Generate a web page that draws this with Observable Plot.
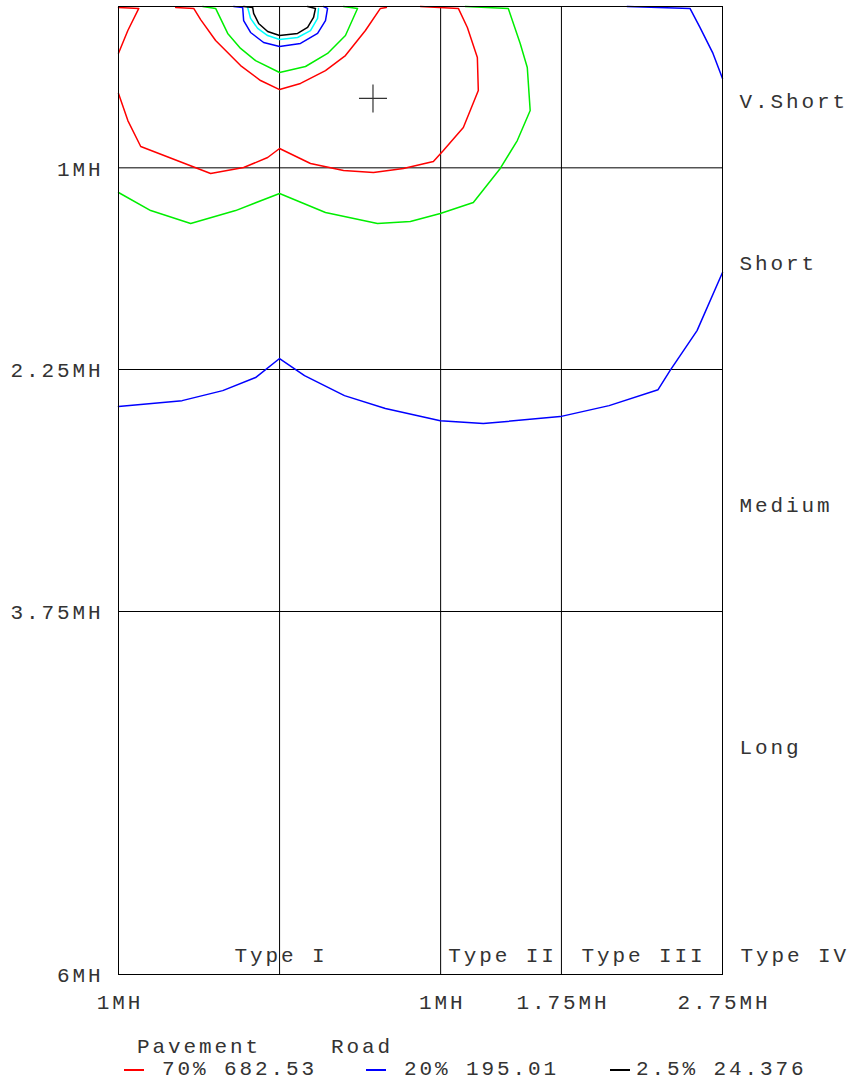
<!DOCTYPE html>
<html><head><meta charset="utf-8">
<script src="https://cdn.jsdelivr.net/npm/d3@7"></script>
<script src="https://cdn.jsdelivr.net/npm/@observablehq/plot@0.6"></script>
<style>
body{margin:0;background:#fff;}
#wrap{position:relative;width:851px;height:1082px;font-family:"Liberation Mono","Courier New",monospace;color:#333;overflow:hidden;}
#wrap svg{position:absolute;left:0;top:0;}
#wrap svg text{letter-spacing:2.9px;}
.leg{position:absolute;font-size:21px;letter-spacing:2.9px;line-height:20px;height:20px;white-space:pre;}
.dash{position:absolute;height:2px;}
</style></head><body><div id="wrap"></div>
<script>
// Contour polylines, in mounting heights (MH): [transverse x, longitudinal y]
const redOuterLeft = [[-1.0,0.006],[-0.874,0.012],[-0.942,0.149],[-1.0,0.29]];
const redInner = [[-0.645,0.006],[-0.533,0.012],[-0.49,0.081],[-0.397,0.211],[-0.242,0.366],[-0.118,0.459],[0.0,0.515],[0.13,0.477],[0.285,0.397],[0.409,0.304],[0.533,0.149],[0.626,0.012],[0.663,0.006]];
const redOuter = [[0.874,0.0],[1.11,0.012],[1.166,0.13],[1.228,0.316],[1.234,0.521],[1.141,0.75],[1.017,0.893],[0.955,0.961],[0.769,1.004],[0.583,1.029],[0.397,1.017],[0.192,0.973],[0.0,0.88],[-0.074,0.936],[-0.223,0.998],[-0.428,1.035],[-0.862,0.868],[-0.942,0.707],[-1.0,0.539]];
const greenInner = [[-0.477,0.0],[-0.397,0.012],[-0.322,0.167],[-0.242,0.26],[-0.149,0.335],[0.0,0.409],[0.161,0.372],[0.298,0.291],[0.409,0.18],[0.484,0.012],[0.397,0.0]];
const greenOuter = [[-1.0,1.153],[-0.8,1.265],[-0.552,1.345],[-0.273,1.265],[0.0,1.159],[0.285,1.277],[0.608,1.345],[0.812,1.333],[0.998,1.283],[1.203,1.215],[1.37,1.004],[1.476,0.831],[1.556,0.645],[1.538,0.378],[1.494,0.229],[1.42,0.012],[1.153,0.0]];
const blueTop = [[2.158,0.0],[2.548,0.012],[2.61,0.13],[2.691,0.291],[2.75,0.446]];
const blueOuter = [[2.75,1.649],[2.592,2.009],[2.424,2.257],[2.35,2.375],[2.046,2.474],[1.742,2.542],[1.265,2.585],[0.998,2.567],[0.657,2.492],[0.403,2.412],[0.155,2.288],[0.0,2.182],[-0.149,2.3],[-0.353,2.381],[-0.605,2.443],[-1.0,2.48]];
const blueInner = [[-0.285,0.0],[-0.229,0.006],[-0.223,0.087],[-0.18,0.161],[-0.099,0.223],[0.0,0.248],[0.13,0.229],[0.236,0.167],[0.285,0.087],[0.298,0.012],[0.273,0.0]];
const cyanInner = [[-0.198,0.006],[-0.18,0.074],[-0.136,0.136],[-0.074,0.18],[0.0,0.205],[0.112,0.192],[0.192,0.149],[0.236,0.074],[0.242,0.012]];
const blackInner = [[-0.223,0.0],[-0.167,0.006],[-0.161,0.043],[-0.13,0.105],[-0.074,0.155],[0.0,0.18],[0.112,0.167],[0.174,0.13],[0.211,0.068],[0.223,0.012],[0.174,0.0]];

const contourParts = [
  ["redOuterLeft", "#ff0000", redOuterLeft],
  ["redInner", "#ff0000", redInner],
  ["redOuter", "#ff0000", redOuter],
  ["greenInner", "#00ee00", greenInner],
  ["greenOuter", "#00ee00", greenOuter],
  ["blueTop", "#0000ff", blueTop],
  ["blueOuter", "#0000ff", blueOuter],
  ["blueInner", "#0000ff", blueInner],
  ["cyanInner", "#00ffff", cyanInner],
  ["blackInner", "#000000", blackInner]
];

const yTicks = [1, 2.25, 3.75, 6];
const yTickLabels = ["1MH", "2.25MH", "3.75MH", "6MH"];
const xTicks = [-1, 1, 1.75, 2.75];
const xTickLabels = ["1MH", "1MH", "1.75MH", "2.75MH"];
const gridX = [0, 1, 1.75];
const gridY = [1, 2.25, 3.75];
const zoneLabels = ["V.Short", "Short", "Medium", "Long"];
const zoneY = [0.59, 1.59, 3.09, 4.59];
const typeLabels = ["Type I", "Type II", "Type III"];
const typeX = [0, 1.375, 2.25];
const typeIV = ["Type IV"];
const markerPt = [[0.58, 0.57]];

const rows = contourParts.flatMap(([id, color, pts]) => pts.map(([x, y]) => ({id, color, x, y})));

const crossSymbol = {
  draw(ctx, size) {
    const r = Math.sqrt(size / Math.PI);
    ctx.moveTo(-r, 0); ctx.lineTo(r, 0);
    ctx.moveTo(0, -r); ctx.lineTo(0, r);
  }
};

const FS = 21, TXT = "#333";
const chart = Plot.plot({
  width: 851,
  height: 1030,
  marginLeft: 118,
  marginRight: 129,
  marginTop: 6,
  marginBottom: 56,
  x: {domain: [-1, 2.75], axis: null},
  y: {domain: [0, 6], reverse: true, axis: null},
  color: {type: "identity"},
  style: {fontFamily: "'Liberation Mono', 'Courier New', monospace", background: "white"},
  marks: [
    Plot.ruleX(gridX, {stroke: "#000", strokeWidth: 1}),
    Plot.ruleY(gridY, {stroke: "#000", strokeWidth: 1}),
    Plot.line(rows, {x: "x", y: "y", z: "id", stroke: "color", strokeWidth: 1.5, curve: "linear"}),
    Plot.frame({stroke: "#000", strokeWidth: 1}),
    Plot.dot(markerPt, {x: d => d[0], y: d => d[1], symbol: crossSymbol, r: 14, stroke: "#333", fill: "none", strokeWidth: 1.2}),
    Plot.text(yTicks, {y: d => d, text: (d, i) => yTickLabels[i], frameAnchor: "left", textAnchor: "end", dx: -15, dy: 1, fontSize: FS, fill: TXT}),
    Plot.text(xTicks, {x: d => d, text: (d, i) => xTickLabels[i], frameAnchor: "bottom", dy: 34, dx: 1.5, fontSize: FS, fill: TXT}),
    Plot.text(zoneY, {y: d => d, text: (d, i) => zoneLabels[i], frameAnchor: "right", textAnchor: "start", dx: 17, fontSize: FS, fill: TXT}),
    Plot.text(typeX, {x: d => d, text: (d, i) => typeLabels[i], frameAnchor: "bottom", dy: -13, dx: 1.5, fontSize: FS, fill: TXT}),
    Plot.text(typeIV, {text: d => d, frameAnchor: "bottom-right", textAnchor: "start", dx: 18, dy: -13, fontSize: FS, fill: TXT})
  ]
});

const wrap = document.getElementById("wrap");
wrap.appendChild(chart);

// Legend below the chart
const legendHeads = [["Pavement", 137], ["Road", 331]];
const legendItems = [["70% 682.53", "#ff0000", 124, 162], ["20% 195.01", "#0000ff", 366, 404], ["2.5% 24.376", "#000000", 610, 636]];
for (const [t, left] of legendHeads) {
  const s = document.createElement("div");
  s.className = "leg"; s.textContent = t;
  s.style.left = left + "px"; s.style.top = "1038px";
  wrap.appendChild(s);
}
for (const [t, color, dashLeft, textLeft] of legendItems) {
  const d = document.createElement("div");
  d.className = "dash"; d.style.background = color;
  d.style.left = dashLeft + "px"; d.style.width = "20px"; d.style.top = "1069px";
  wrap.appendChild(d);
  const s = document.createElement("div");
  s.className = "leg"; s.textContent = t;
  s.style.left = textLeft + "px"; s.style.top = "1060px";
  wrap.appendChild(s);
}
</script>
</body></html>
